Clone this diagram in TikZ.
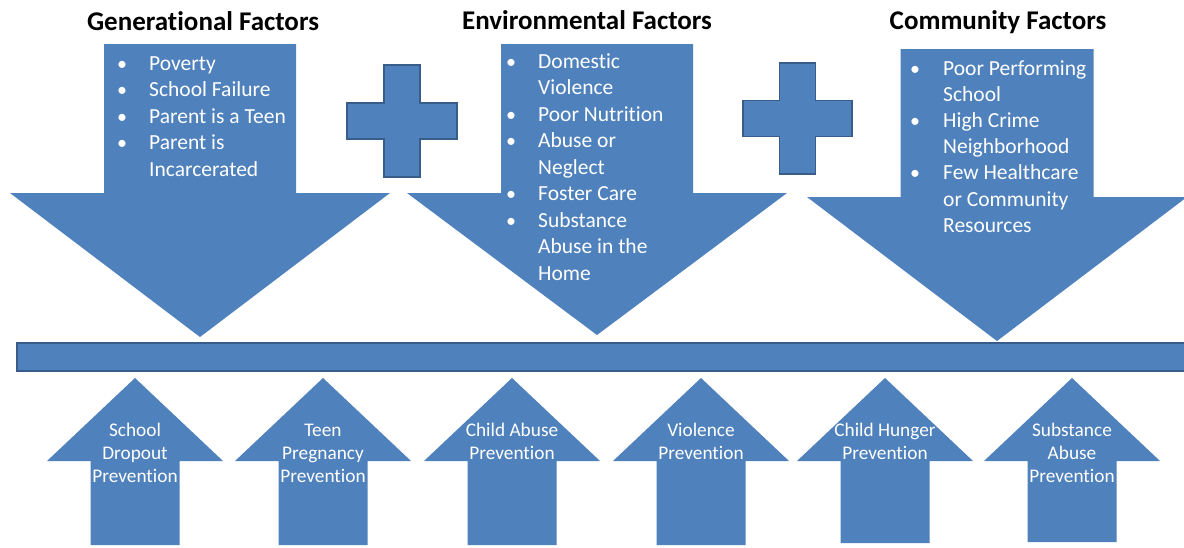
\documentclass[tikz,border=0pt]{standalone}
\usepackage{fontspec}
\setmainfont{Carlito}[Ligatures=NoCommon]
\definecolor{blockblue}{RGB}{79,129,189}
\definecolor{edgeblue}{RGB}{56,93,138}

% down arrow: centre x, top, shaft half width, head y, head half width, tip y
\newcommand\factorarrow[6]{%
  \fill[blockblue] ({#1-#3},#2) -- ({#1+#3},#2) -- ({#1+#3},#4) -- ({#1+#5},#4)
    -- (#1,#6) -- ({#1-#5},#4) -- ({#1-#3},#4) -- cycle;}
% up arrow: centre x, bottom
\newcommand\preventarrow[2]{%
  \fill[blockblue] ({#1-44.5},#2) -- ({#1-44.5},461) -- ({#1-88},461) -- (#1,378)
    -- ({#1+88},461) -- ({#1+44.5},461) -- ({#1+44.5},#2) -- cycle;}
% plus sign: centre x, centre y, half width, half height, half arm thickness
\newcommand\plussign[5]{%
  \draw[framed] ({#1-#5},{#2-#4}) -- ({#1+#5},{#2-#4}) -- ({#1+#5},{#2-#5})
    -- ({#1+#3},{#2-#5}) -- ({#1+#3},{#2+#5}) -- ({#1+#5},{#2+#5})
    -- ({#1+#5},{#2+#4}) -- ({#1-#5},{#2+#4}) -- ({#1-#5},{#2+#5})
    -- ({#1-#3},{#2+#5}) -- ({#1-#3},{#2-#5}) -- ({#1-#5},{#2-#5}) -- cycle;}
% stacked label lines: name prefix, centre x, lines
\newcommand\labelstack[3]{%
  \foreach \t [count=\i] in {#3}
    \node[label] (#1\i) at (#2,{436+(\i-1)*23}) {\t};}

\begin{document}
\begin{tikzpicture}[x=1pt,y=-1pt,
  framed/.style={fill=blockblue, draw=edgeblue, line width=1.5pt, line join=miter},
  title/.style={font=\bfseries\fontsize{27}{32}\selectfont, text=black,
    inner sep=0pt, anchor=base},
  item/.style={font=\fontsize{21.5}{26}\selectfont, text=white, inner sep=0pt,
    anchor=base west},
  dot/.style={font=\fontsize{20}{26}\selectfont, text=white, inner sep=0pt,
    anchor=base},
  label/.style={font=\fontsize{19.3}{23}\selectfont, text=white, inner sep=0pt,
    anchor=base}]
\clip (0,0) rectangle (1184,547);
\fill[white] (0,0) rectangle (1184,547);

% factor arrows
\factorarrow{200}{44}{96}{193}{190}{337}
\factorarrow{597}{44}{96}{193}{190}{335}
\factorarrow{997}{49}{96.5}{197}{190}{341}

% plus signs
\plussign{402}{121}{55}{56}{18}
\plussign{797.5}{118.5}{54.5}{55.5}{18}

% bar
\draw[framed] (17,343) rectangle (1200,371);

% prevention arrows
\preventarrow{135}{545}
\preventarrow{323}{545}
\preventarrow{512}{545}
\preventarrow{701}{545}
\preventarrow{885}{543}
\preventarrow{1072}{542}

% titles
\node[title] (gentitle) at (203,30) {Generational Factors};
\node[title] (envtitle) at (587,29) {Environmental Factors};
\node[title] (comtitle) at (998,29) {Community Factors};

% generational list
\foreach \t [count=\i] in {Poverty, School Failure, Parent is a Teen, Parent is, Incarcerated}
  \node[item] (gen\i) at (149,{70+(\i-1)*26.5}) {\t};
\foreach \i in {1,2,3,4}
  \node[dot] (genb\i) at (122,{70+(\i-1)*26.5}) {\textbullet};

% environmental list
\foreach \t [count=\i] in {Domestic, Violence, Poor Nutrition, Abuse or, Neglect,
    Foster Care, Substance, Abuse in the, Home}
  \node[item] (env\i) at (538,{68.3+(\i-1)*26.5}) {\t};
\foreach \i in {1,3,4,6,7}
  \node[dot] (envb\i) at (511,{68.3+(\i-1)*26.5}) {\textbullet};

% community list
\foreach \t [count=\i] in {Poor Performing, School, High Crime, Neighborhood,
    Few Healthcare, or Community, Resources}
  \node[item] (com\i) at (943,{75+(\i-1)*26.2}) {\t};
\foreach \i in {1,3,5}
  \node[dot] (comb\i) at (915,{75+(\i-1)*26.2}) {\textbullet};

% prevention labels
\labelstack{sch}{135}{School, Dropout, Prevention}
\labelstack{teen}{323}{Teen, Pregnancy, Prevention}
\labelstack{abuse}{512}{Child Abuse, Prevention}
\labelstack{viol}{701}{Violence, Prevention}
\labelstack{hung}{885}{Child Hunger, Prevention}
\labelstack{subs}{1072}{Substance, Abuse, Prevention}
\end{tikzpicture}
\end{document}
